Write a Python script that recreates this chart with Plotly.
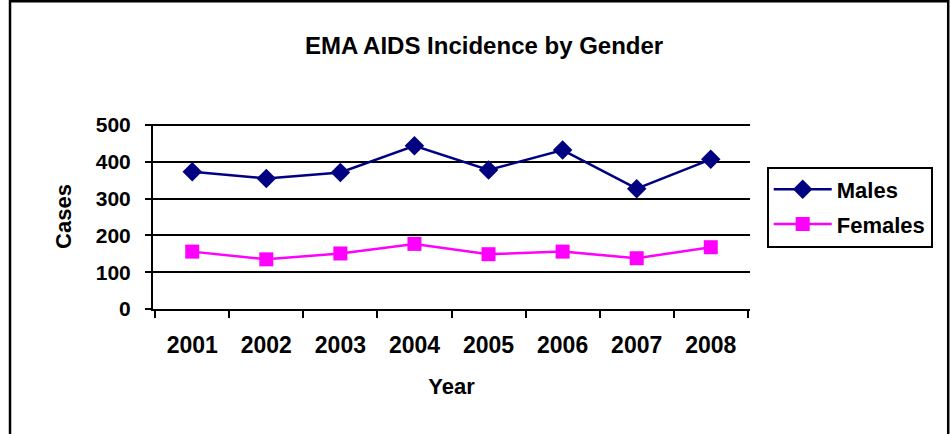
import plotly.graph_objects as go

years = ["2001", "2002", "2003", "2004", "2005", "2006", "2007", "2008"]
males = [373, 355, 371, 444, 378, 432, 327, 407]
females = [156, 135, 151, 177, 149, 156, 138, 168]
y_ticks = [0, 100, 200, 300, 400, 500]

FONT = "Liberation Sans, Arial, sans-serif"

fig = go.Figure()
fig.add_trace(go.Scatter(
    x=years, y=males, name="Males", mode="lines+markers", legendgroup="m",
    line=dict(color="#000080", width=2.5),
    marker=dict(symbol="diamond", size=15, color="#000080"),
))
fig.add_trace(go.Scatter(
    x=years, y=females, name="Females", mode="lines+markers", legendgroup="f",
    line=dict(color="#FF00FF", width=2.5),
    marker=dict(symbol="square", size=14, color="#FF00FF"),
))

fig.update_layout(
    width=951, height=434,
    margin=dict(l=153, r=201, t=124, b=125),
    paper_bgcolor="white", plot_bgcolor="white",
    font=dict(family=FONT, color="black", size=21, weight="bold"),
    title=dict(text="EMA AIDS Incidence by Gender", x=0.509, xanchor="center",
               y=0.894, yanchor="middle",
               font=dict(size=24, family=FONT, weight="bold")),
    legend=dict(x=1.028, y=0.77, xanchor="left", yanchor="top",
                bordercolor="black", borderwidth=2, bgcolor="white",
                font=dict(size=22, family=FONT, weight="bold"),
                itemwidth=58, traceorder="grouped", tracegroupgap=3),
    showlegend=True,
    shapes=[dict(type="rect", xref="paper", yref="paper",
                 x0=-0.2395, x1=1.332, y0=-0.75, y1=1.663,
                 line=dict(color="black", width=2.5), layer="below")],
)
fig.update_xaxes(
    type="category", tickson="boundaries",
    showline=True, linecolor="black", linewidth=2,
    ticks="outside", ticklen=7, tickwidth=2, tickcolor="black",
    ticklabelstandoff=14,
    showgrid=False,
    tickfont=dict(size=23, family=FONT, weight="bold"),
    title=dict(text="Year", font=dict(size=22, family=FONT, weight="bold"), standoff=22),
)
fig.update_yaxes(
    range=[0, 503], tickvals=y_ticks,
    showline=True, linecolor="black", linewidth=2,
    ticks="outside", ticklen=6, tickwidth=2, tickcolor="black",
    ticklabelstandoff=10,
    showgrid=True, gridcolor="black", gridwidth=2,
    zeroline=False,
    tickfont=dict(size=21, family=FONT, weight="bold"),
    title=dict(text="Cases", font=dict(size=22, family=FONT, weight="bold"), standoff=18),
)

fig.write_html("out.html", config={"displayModeBar": False},
               post_script="document.body.style.margin='0';")
